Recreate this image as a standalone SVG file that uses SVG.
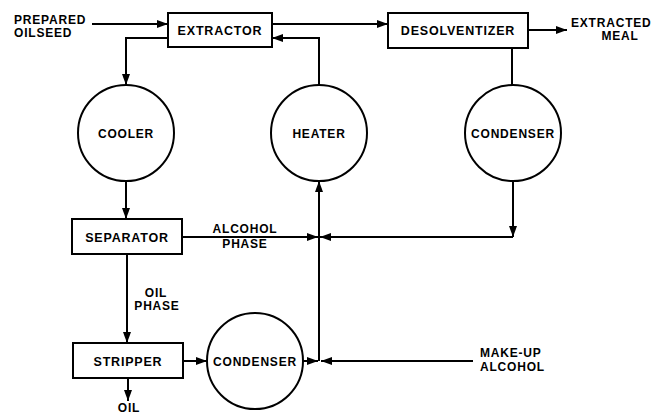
<svg xmlns="http://www.w3.org/2000/svg" width="655" height="414" viewBox="0 0 655 414">
<style>
.box{fill:#fff;stroke:#000;stroke-width:2}
.circ{fill:#fff;stroke:#000;stroke-width:2}
.ln{fill:none;stroke:#000;stroke-width:2}
.t{font-family:"Liberation Sans",Arial,sans-serif;font-weight:bold;font-size:12px;letter-spacing:0.8px;fill:#000}
.tb{font-size:12.5px}
.m{text-anchor:middle}
</style>
<defs>
<marker id="ah" markerUnits="userSpaceOnUse" markerWidth="11" markerHeight="8" refX="11" refY="4" orient="auto">
<path d="M0,0 L11,4 L0,8 z" fill="#000"/>
</marker>
</defs>
<rect width="655" height="414" fill="#fff"/>
<g id="connectors">
<path class="ln" d="M92,24 H168" marker-end="url(#ah)"/>
<path class="ln" d="M272,24 H388" marker-end="url(#ah)"/>
<path class="ln" d="M528,30 H567" marker-end="url(#ah)"/>
<path class="ln" d="M168,38 H126 V85" marker-end="url(#ah)"/>
<path class="ln" d="M319,85 V38 H272" marker-end="url(#ah)"/>
<path class="ln" d="M512,48 V85"/>
<path class="ln" d="M513,181 V237" marker-end="url(#ah)"/>
<path class="ln" d="M513,237 H320" marker-end="url(#ah)"/>
<path class="ln" d="M126,181 V219" marker-end="url(#ah)"/>
<path class="ln" d="M182,237 H318" marker-end="url(#ah)"/>
<path class="ln" d="M319,361 V181" marker-end="url(#ah)"/>
<path class="ln" d="M127,254 V343" marker-end="url(#ah)"/>
<path class="ln" d="M183,361 H207" marker-end="url(#ah)"/>
<path class="ln" d="M303,361 H318" marker-end="url(#ah)"/>
<path class="ln" d="M473,361 H321" marker-end="url(#ah)"/>
<path class="ln" d="M128,378 V401" marker-end="url(#ah)"/>
</g>
<g id="prepared-oilseed">
<text class="t" x="14" y="24">PREPARED</text>
<text class="t" x="14" y="37">OILSEED</text>
</g>
<g id="extractor">
<rect class="box" x="168" y="13" width="104" height="34"/>
<text class="t tb m" x="220" y="35">EXTRACTOR</text>
</g>
<g id="desolventizer">
<rect class="box" x="388" y="13" width="140" height="35"/>
<text class="t tb m" x="458" y="35">DESOLVENTIZER</text>
</g>
<g id="extracted-meal">
<text class="t" x="571" y="27">EXTRACTED</text>
<text class="t m" x="620" y="40">MEAL</text>
</g>
<g id="cooler">
<circle class="circ" cx="126" cy="133" r="48"/>
<text class="t m" x="126" y="138">COOLER</text>
</g>
<g id="heater">
<circle class="circ" cx="319" cy="133" r="48"/>
<text class="t m" x="319" y="138">HEATER</text>
</g>
<g id="condenser-top">
<circle class="circ" cx="513" cy="133" r="48"/>
<text class="t m" x="513" y="138">CONDENSER</text>
</g>
<g id="separator">
<rect class="box" x="72" y="219" width="110" height="35"/>
<text class="t tb m" x="127" y="242">SEPARATOR</text>
</g>
<g id="alcohol-phase">
<text class="t m" x="245" y="233">ALCOHOL</text>
<text class="t m" x="245" y="248">PHASE</text>
</g>
<g id="oil-phase">
<text class="t m" x="156" y="297">OIL</text>
<text class="t m" x="157" y="310">PHASE</text>
</g>
<g id="stripper">
<rect class="box" x="73" y="343" width="110" height="35"/>
<text class="t tb m" x="128" y="366">STRIPPER</text>
</g>
<g id="condenser-bottom">
<circle class="circ" cx="255" cy="361" r="48"/>
<text class="t m" x="255" y="366">CONDENSER</text>
</g>
<g id="make-up-alcohol">
<text class="t" x="480" y="357">MAKE-UP</text>
<text class="t" x="480" y="371">ALCOHOL</text>
</g>
<g id="oil">
<text class="t m" x="129" y="412">OIL</text>
</g>
</svg>
